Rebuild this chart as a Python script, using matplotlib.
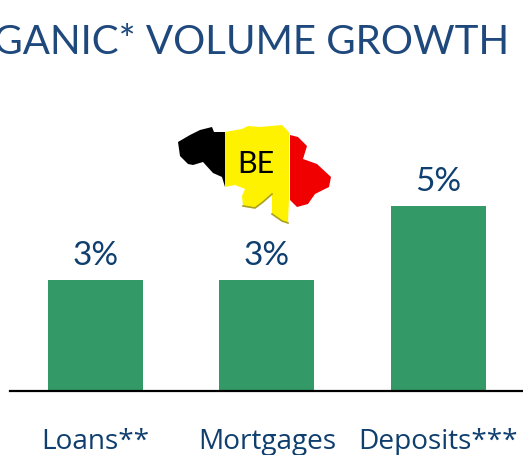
import matplotlib
matplotlib.use("Agg")
import matplotlib.pyplot as plt
from matplotlib.patches import Polygon, Rectangle

plt.rcParams['font.family'] = ['Lato', 'DejaVu Sans']

# Data
categories = ["Loans**", "Mortgages", "Deposits***"]
growth = [3, 3, 5]
labels = ["3%", "3%", "5%"]
title = "ORGANIC* VOLUME GROWTH"

# outline of the map (pixels)
map_outline = [(178, 143), (190, 136), (200, 131), (212, 128), (214, 133), (225, 133),
               (242, 130), (248, 127), (260, 128), (282, 126), (288, 132), (290, 136),
               (298, 138), (307, 147), (303, 160), (317, 165), (331, 178), (329, 188),
               (315, 195), (308, 205), (297, 208), (289, 200), (288, 224), (282, 222),
               (272, 215), (272, 195), (263, 203), (255, 209), (243, 207), (242, 197),
               (245, 190), (235, 186), (225, 188), (222, 178), (213, 174), (203, 163),
               (193, 166), (188, 165), (180, 157)]
map_shadow = [(243, 207), (255, 209), (263, 203), (272, 195)]
map_shadow2 = [(272, 215), (282, 222), (288, 224)]

W, H = 523, 456
fig = plt.figure(figsize=(W / 100, H / 100), dpi=100)
fig.patch.set_facecolor("white")

# axes = plotting zone, baseline at y=391
ax = fig.add_axes([10 / W, (H - 391.5) / H, (W - 10) / W, 300 / H])
ax.bar(range(3), growth, width=0.555, color="#339966")
ax.set_xlim(-0.497, 2.493)
ax.set_ylim(0, 300 / 36.9)
ax.set_xticks(range(3))
ax.set_xticklabels(categories, fontsize=20.2, color="#0F3F6F", family="Open Sans")
ax.tick_params(axis="x", length=0, pad=26.3)
ax.set_yticks([])
for s in ["top", "left", "right"]:
    ax.spines[s].set_visible(False)
ax.spines["bottom"].set_linewidth(1.6)
ax.patch.set_alpha(0)

for i in range(3):
    ax.annotate(labels[i], (i, growth[i]), xytext=(0, 7), textcoords="offset points",
                ha="center", va="bottom", fontsize=24, color="#0F3F6F")

# title, goes off the left side like in the original
fig.text(509 / W, (H - 54.5) / H, title, ha="right", va="baseline", fontsize=29, color="#1F497D")

# map overlay in pixel coords
ov = fig.add_axes([0, 0, 1, 1], zorder=3)
ov.set_xlim(0, W)
ov.set_ylim(H, 0)
ov.axis("off")
shape = Polygon(map_outline, closed=True, transform=ov.transData, fc="none", ec="none")
ov.add_patch(shape)
for x0, x1, col in [(170, 225, "black"), (225, 288.5, "#FFF200"), (290, 335, "#F00000")]:
    r = Rectangle((x0, 120), x1 - x0, 110, fc=col, ec="none")
    ov.add_patch(r)
    r.set_clip_path(shape)
for seg in [map_shadow, map_shadow2]:
    ov.plot([p[0] for p in seg], [p[1] for p in seg], color="#A8A020", lw=1.2)
ov.text(255.5, 164, "BE", ha="center", va="center", fontsize=22, color="black")

fig.savefig("out.png", dpi=100)
